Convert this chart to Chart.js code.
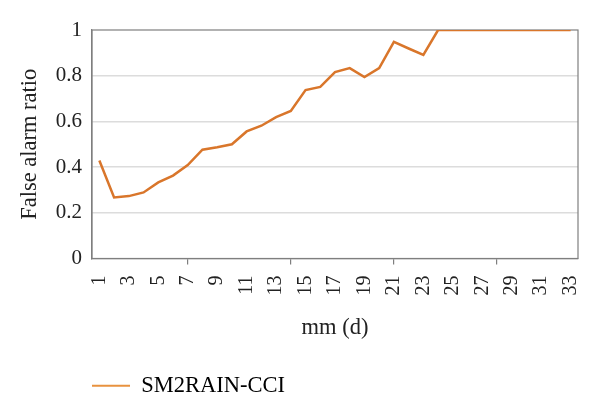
<!DOCTYPE html>
<html>
<head>
<meta charset="utf-8">
<script src="https://cdn.jsdelivr.net/npm/chart.js@4"></script>
<style>
  html, body { margin: 0; padding: 0; background: #fff; }
  #wrap { width: 600px; height: 414px; }
</style>
</head>
<body>
<div id="wrap"><canvas id="c" width="600" height="414"></canvas></div>
<script>
const categories = [1,2,3,4,5,6,7,8,9,10,11,12,13,14,15,16,17,18,19,20,21,22,23,24,25,26,27,28,29,30,31,32,33];
const seriesName = 'SM2RAIN-CCI';
const falseAlarmRatio = [0.429,0.267,0.273,0.289,0.333,0.363,0.409,0.476,0.487,0.500,
  0.556,0.581,0.619,0.646,0.737,0.751,0.816,0.833,0.794,0.833,
  0.948,0.919,0.891,1,1,1,1,1,1,1,1,1,1];
const yTicks = [0, 0.2, 0.4, 0.6, 0.8, 1];
const xTitle = 'mm (d)';
const yTitle = 'False alarm ratio';

const FONT = "'Liberation Serif', 'Times New Roman', serif";
const FRAME = '#7f7f7f';

const framePlugin = {
  id: 'frame',
  beforeDatasetsDraw(chart) {
    const {ctx, chartArea: a} = chart;
    ctx.save();
    ctx.strokeStyle = FRAME;
    ctx.lineWidth = 1.2;
    ctx.strokeRect(a.left, a.top, a.right - a.left, a.bottom - a.top);
    ctx.restore();
  }
};
const legendShift = {
  id: 'legendShift',
  afterLayout(chart) {
    if (chart.legend) chart.legend.left = chart.chartArea.left - 10;
  }
};

new Chart(document.getElementById('c'), {
  type: 'line',
  data: {
    labels: categories,
    datasets: [{
      label: seriesName,
      data: falseAlarmRatio,
      borderColor: '#D9762B',
      backgroundColor: '#D9762B',
      borderWidth: 2.5,
      pointRadius: 0,
      tension: 0,
      fill: false
    }]
  },
  options: {
    responsive: false,
    animation: false,
    layout: { padding: { left: 13, right: 22, top: 30, bottom: 7 } },
    plugins: {
      tooltip: { enabled: false },
      legend: {
        position: 'bottom',
        align: 'start',
        labels: {
          usePointStyle: true,
          boxWidth: 40,
          pointStyleWidth: 38,
          padding: 10,
          color: '#222',
          font: { family: FONT, size: 22.5 },
          generateLabels: () => [{
            text: seriesName,
            strokeStyle: '#E8923F',
            fillStyle: '#E8923F',
            lineWidth: 2,
            pointStyle: 'line',
            hidden: false,
            datasetIndex: 0
          }]
        }
      }
    },
    scales: {
      x: {
        type: 'category',
        offset: true,
        afterFit(s) { s.height = 106; s.paddingLeft = 0; s.paddingRight = 0; },
        grid: {
          display: true,
          drawOnChartArea: false,
          drawTicks: true,
          tickLength: 6,
          offset: false,
          color: ctx => ([6, 13, 20, 27].includes(ctx.index) ? FRAME : 'rgba(0,0,0,0)'),
          lineWidth: 1.2
        },
        border: { display: true, color: FRAME, width: 1.2 },
        ticks: {
          autoSkip: false,
          maxRotation: 90,
          minRotation: 90,
          padding: 11,
          color: '#222',
          font: { family: FONT, size: 20 },
          callback: (v, i) => (i % 2 === 0 ? String(categories[i]) : '')
        },
        title: {
          display: true,
          text: xTitle,
          color: '#222',
          font: { family: FONT, size: 22.5 },
          padding: { top: 0, bottom: 23 }
        }
      },
      y: {
        min: 0,
        max: 1,
        afterFit(s) { s.width = 79; },
        afterBuildTicks(s) { s.ticks = yTicks.map(v => ({ value: v })); },
        grid: {
          drawTicks: false,
          color: ctx => (ctx.tick && (ctx.tick.value === 0 || ctx.tick.value === 1) ? 'rgba(0,0,0,0)' : '#dcdcdc'),
          lineWidth: 1.5
        },
        border: { display: true, color: FRAME, width: 1.2 },
        ticks: {
          padding: 10,
          color: '#222',
          font: { family: FONT, size: 21 },
          callback: v => String(v)
        },
        title: {
          display: true,
          text: yTitle,
          color: '#222',
          font: { family: FONT, size: 22.5 },
          padding: { top: 4, bottom: 0 }
        }
      }
    }
  },
  plugins: [framePlugin, legendShift]
});
</script>
</body>
</html>
